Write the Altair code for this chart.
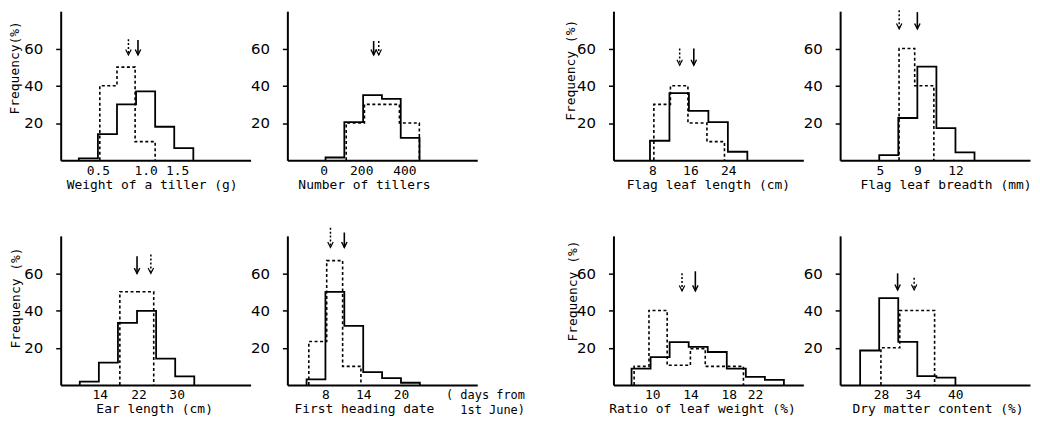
import json
import altair as alt
import pandas as pd

MONO = "DejaVu Sans Mono"
SANS = "DejaVu Sans"

# ---------------- data ----------------
# 1. Weight of a tiller (g)
w_edges = [0.3, 0.5, 0.7, 0.9, 1.1, 1.3, 1.5]
w_solid = [1, 14, 30, 37, 18, 6.5]
w_dash_edges = [0.52, 0.70, 0.89, 1.10]
w_dash = [40, 50, 10]
w_mean_solid, w_mean_dash = 0.92, 0.82
w_ticks = [0.5, 1.0, 1.33]
w_labels = ["0.5", "1.0", "1.5"]

# 2. Number of tillers
n_edges = [0, 100, 200, 300, 400, 500]
n_solid = [1.5, 20.5, 35, 33, 12]
n_dash_edges = [110, 207, 300, 393, 499]
n_dash = [20, 30, 30, 20]
n_mean_solid, n_mean_dash = 256, 283
n_ticks = [-10, 190, 420]
n_labels = ["0", "200", "400"]

# 3. Flag leaf length (cm)
fl_edges = [8, 12, 16, 20, 24, 28]
fl_solid = [10.5, 36, 26.5, 20.5, 4.6]
fl_dash_edges = [8.8, 12.2, 15.8, 19.7, 23.3]
fl_dash = [30, 40, 20, 10]
fl_mean_solid, fl_mean_dash = 17.0, 14.1
fl_ticks = [8.5, 16.3, 24.1]
fl_labels = ["8", "16", "24"]

# 4. Flag leaf breadth (mm)
fb_edges = [6, 7.5, 9, 10.5, 12, 13.5]
fb_solid = [2.8, 22.7, 50.3, 17.3, 4.2]
fb_dash_edges = [7.56, 8.79, 10.3]
fb_dash = [60, 40]
fb_mean_solid, fb_mean_dash = 9.0, 7.57
fb_ticks = [6.05, 9.0, 12.0]
fb_labels = ["5", "9", "12"]

# 5. Ear length (cm)
e_edges = [10, 14, 18, 22, 26, 30, 34]
e_solid = [1.8, 12, 33.3, 39.8, 14.2, 4.6]
e_dash_edges = [18.4, 22, 25.5]
e_dash = [50, 50]
e_mean_solid, e_mean_dash = 22.0, 24.9
e_ticks = [14.2, 22.3, 30.3]
e_labels = ["14", "22", "30"]

# 6. First heading date (days from 1st June)
h_edges = [5, 8, 11, 14, 17, 20, 23]
h_solid = [3, 50, 31.7, 6.9, 3.7, 1.2]
h_dash_edges = [5.36, 8.2, 10.73, 13.64]
h_dash = [23.3, 66.7, 10]
h_mean_solid, h_mean_dash = 11.0, 8.8
h_ticks = [8, 14, 20]
h_labels = ["8", "14", "20"]

# 7. Ratio of leaf weight (%)
r_edges = [8, 10, 12, 14, 16, 18, 20, 22, 24]
r_solid = [8.8, 15, 23, 20.4, 17.7, 8.8, 4.4, 2.7]
r_dash_edges = [8.27, 9.83, 11.74, 14.18, 15.74, 19.75]
r_dash = [10, 40, 10.6, 19.5, 10]
r_mean_solid, r_mean_dash = 14.7, 13.3
r_ticks = [10.18, 14.18, 18.2, 20.96]
r_labels = ["10", "14", "18", "22"]

# 8. Dry matter content (%)
d_edges = [25, 28, 31, 34, 37, 40]
d_solid = [18.5, 46.6, 23.1, 4.8, 3.9]
d_dash_edges = [28.27, 31.24, 34, 36.72]
d_dash = [20, 40, 40]
d_mean_solid, d_mean_dash = 30.9, 33.5
d_ticks = [28.27, 33.3, 39.96]
d_labels = ["28", "34", "40"]

# arrow extents [solid top, dashed top, bottom] (frequency units)
arrow_y = [
    [64.5, 65, 56.5], [64, 64, 56.5], [60, 60, 51], [79.5, 80.5, 70.5],
    [69, 70, 59.8], [81.8, 84.4, 73.8], [61, 60, 50.5], [59.9, 57.5, 51],
]

x_titles = ["Weight of a tiller (g)", "Number of tillers", "Flag leaf length (cm)",
            "Flag leaf breadth (mm)", "Ear length (cm)", "First heading date",
            "Ratio of leaf weight (%)", "Dry matter content (%)"]
y_titles = ["Frequency(%)", "", "Frequency (%)", "", "Frequency (%)", "", "Frequency (%)", ""]
heading_note = ["( days from", "1st June)"]
x_domains = [[0.11, 2.10], [-203, 807], [0.5, 39.5], [2.92, 17.87],
             [6.0, 45.8], [1.95, 32.12], [6.1, 26.04], [21.85, 51.74]]
x_title_pos = [91.5, 77, 95, 106, 94, 77, 89, 98]
y_title_pos = [56.5, 0, 59, 0, 62, 0, 55, 0]
y_title_off = [-46, 0, -43, 0, -45, 0, -41, 0]
y_ticks = [20, 40, 60]

W, H = 191, 150

panels_data = [
    (w_edges, w_solid, w_dash_edges, w_dash, w_mean_solid, w_mean_dash, w_ticks, w_labels),
    (n_edges, n_solid, n_dash_edges, n_dash, n_mean_solid, n_mean_dash, n_ticks, n_labels),
    (fl_edges, fl_solid, fl_dash_edges, fl_dash, fl_mean_solid, fl_mean_dash, fl_ticks, fl_labels),
    (fb_edges, fb_solid, fb_dash_edges, fb_dash, fb_mean_solid, fb_mean_dash, fb_ticks, fb_labels),
    (e_edges, e_solid, e_dash_edges, e_dash, e_mean_solid, e_mean_dash, e_ticks, e_labels),
    (h_edges, h_solid, h_dash_edges, h_dash, h_mean_solid, h_mean_dash, h_ticks, h_labels),
    (r_edges, r_solid, r_dash_edges, r_dash, r_mean_solid, r_mean_dash, r_ticks, r_labels),
    (d_edges, d_solid, d_dash_edges, d_dash, d_mean_solid, d_mean_dash, d_ticks, d_labels),
]


def step_frame(edges, vals):
    xs = [edges[0]] + list(edges[:-1]) + [edges[-1]]
    ys = [0] + list(vals) + [0]
    return pd.DataFrame({"x": xs, "y": ys, "o": list(range(len(xs)))})


ARROW_HEAD = "M-1,-2L0,0L1,-2"


def make_panel(k):
    edges, solid, dedges, dash, ms, md, ticks, labels = panels_data[k]
    xscale = alt.Scale(domain=x_domains[k], nice=False, zero=False)
    yscale = alt.Scale(domain=[0, 80], nice=False, zero=True)
    label_expr = f"{json.dumps(labels)}[indexof({json.dumps(ticks)}, datum.value)]"
    xaxis = alt.Axis(values=ticks, labelExpr=label_expr, ticks=False, labelPadding=4,
                     labelFlush=False, labelOverlap=False, grid=False,
                     labelFont=MONO, labelFontSize=13,
                     title=x_titles[k], titleX=x_title_pos[k], titleY=24,
                     titleBaseline="middle", titleAlign="center",
                     titleFont=MONO, titleFontSize=13, titleFontWeight="normal")
    yargs = dict(values=y_ticks, tickSize=5, labelPadding=13, grid=False,
                 labelFont=SANS, labelFontSize=15, title=y_titles[k])
    if y_titles[k]:
        yargs.update(titleX=y_title_off[k], titleY=y_title_pos[k], titleBaseline="middle",
                     titleAlign="center", titleFont=MONO, titleFontSize=13,
                     titleFontWeight="normal")
    yaxis = alt.Axis(**yargs)

    def X(field):
        return alt.X(f"{field}:Q", scale=xscale, axis=xaxis)

    def Y(field):
        return alt.Y(f"{field}:Q", scale=yscale, axis=yaxis)

    solid_line = alt.Chart(step_frame(edges, solid)).mark_line(
        interpolate="step-after", color="black", strokeWidth=1.8
    ).encode(x=X("x"), y=Y("y"), order="o:Q")
    dash_line = alt.Chart(step_frame(dedges, dash)).mark_line(
        interpolate="step-after", color="black", strokeWidth=1.6, strokeDash=[3, 2.5]
    ).encode(x=X("x"), y=Y("y"), order="o:Q")

    st, dt, bt = arrow_y[k]
    arr_s = pd.DataFrame({"x": [ms], "top": [st], "bot": [bt]})
    arr_d = pd.DataFrame({"x": [md], "top": [dt], "bot": [bt]})
    rule_s = alt.Chart(arr_s).mark_rule(color="black", strokeWidth=1.6).encode(
        x=X("x"), y=Y("top"), y2="bot:Q")
    rule_d = alt.Chart(arr_d).mark_rule(color="black", strokeWidth=1.5, strokeDash=[2, 2]).encode(
        x=X("x"), y=Y("top"), y2="bot:Q")
    head_s = alt.Chart(arr_s).mark_point(shape=ARROW_HEAD, size=30, filled=False,
                                         color="black", strokeWidth=1.4, opacity=1).encode(
        x=X("x"), y=Y("bot"))
    head_d = alt.Chart(arr_d).mark_point(shape=ARROW_HEAD, size=30, filled=False,
                                         color="black", strokeWidth=1.2, opacity=1).encode(
        x=X("x"), y=Y("bot"))
    layers = [dash_line, solid_line, rule_s, rule_d, head_s, head_d]
    if k == 5:
        extra = alt.Chart(pd.DataFrame({"t": heading_note,
                                        "yy": [H + 10.5, H + 25.5]})).mark_text(
            font=MONO, fontSize=12, align="right", baseline="middle", color="black"
        ).encode(text="t:N", x=alt.value(239), y=alt.Y("yy:Q", scale=None))
        layers.append(extra)
    return alt.layer(*layers).properties(width=W, height=H)


spacer = alt.Chart(pd.DataFrame({"v": [0]})).mark_point(opacity=0).encode(
    x=alt.X("v:Q", axis=None), y=alt.Y("v:Q", axis=None)
).properties(width=63, height=H)

P = [make_panel(k) for k in range(8)]

chart = alt.concat(
    P[0], P[1], spacer, P[2], P[3],
    P[4], P[5], spacer, P[6], P[7],
    columns=5, spacing={"row": 76, "column": 37}, bounds="flush", align="each",
).properties(
    padding={"left": 0, "top": 0, "right": 0, "bottom": 0}
).configure_view(strokeWidth=0).configure_axis(
    domainColor="black", domainWidth=2, tickColor="black", tickWidth=1.5,
    labelColor="black", titleColor="black"
)

chart.save("out.html", embed_options={"renderer": "svg", "actions": False})
